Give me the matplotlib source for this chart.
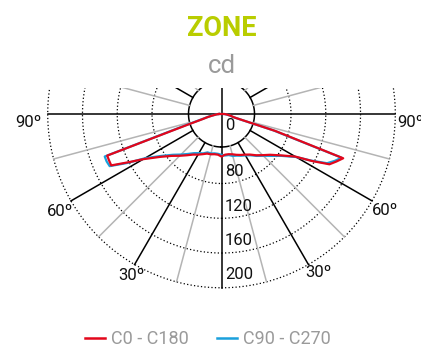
"""
Polar luminous intensity diagram (cd) for the ZONE luminaire.
Lower hemisphere only, C0-C180 and C90-C270 planes.
"""
import matplotlib
matplotlib.use("Agg")
import matplotlib.pyplot as plt
import matplotlib.patches as mpatches
from matplotlib.lines import Line2D
import numpy as np

# gamma angles (deg from nadir), same grid for every half-plane
ANGLES = [0, 5, 10, 15, 20, 25, 30, 35, 40, 45, 50, 55, 60, 62.5, 65, 67.5,
          70, 72.5, 75, 77.5, 80, 85, 90]

# intensities in cd
C0 = [49, 47, 47, 48, 50, 52, 54, 57, 62, 67, 73, 83, 98, 117, 137, 143,
      149, 65, 15, 12, 10, 6, 3]
C180 = [49, 47, 47, 48, 48.5, 51, 54, 57, 62, 68, 75, 86, 104, 120, 140, 140,
        140, 40, 22, 16, 11, 6, 3]
C90 = [47, 48, 48, 50, 51, 53, 55, 58, 63, 68, 75, 84, 99, 116, 134, 141,
       147, 62, 14, 11, 9, 5, 3]
C270 = [47, 46, 46, 47, 47, 50, 52, 55, 60, 66, 73, 84, 102, 122, 142, 143,
        143, 44, 24, 17, 12, 6, 3]

RINGS = [80, 120, 160, 200]
RING_LABELS = ["0", "80", "120", "160", "200"]
DEG_LABELS = ["90º", "60º", "30º", "30º", "60º", "90º"]
SERIES_NAMES = ["C0 - C180", "C90 - C270"]

RED = "#e3061b"
BLUE = "#1aa0dc"
GREY_TXT = "#9a9a9a"
FONT = ["Roboto", "DejaVu Sans"]

R_MAX = 200
R_INNER = 38


def full_curve(right, left):
    """Join the two half-planes into one closed polar trace (-90 .. 90 deg)."""
    ang = np.radians(ANGLES)
    theta = np.concatenate([-ang[::-1], ang[1:]])
    r = np.concatenate([np.asarray(left)[::-1], np.asarray(right)[1:]])
    return np.append(theta, theta[0]), np.append(r, r[0])


def draw_grid(ax):
    t = np.linspace(0, 2 * np.pi, 720)
    for r in RINGS:
        ax.plot(t, np.full_like(t, r), color="black", lw=0.9,
                ls=(0, (1, 1.8)), zorder=1, clip_on=False)
    ax.plot(t, np.full_like(t, R_INNER), color="black", lw=1.1,
            zorder=1, clip_on=False)

    for a in range(0, 360, 15):
        rad = np.radians(a)
        if a % 90 == 0:
            ax.plot([rad, rad], [0, R_MAX], color="black", lw=1.1,
                    zorder=1, clip_on=False)
        elif a % 30 == 0:
            ax.plot([rad, rad], [R_INNER, R_MAX], color="black", lw=1.1,
                    zorder=1, clip_on=False)
        else:
            ax.plot([rad, rad], [R_INNER, R_MAX], color="#b4b4b4", lw=1.1,
                    zorder=1, clip_on=False)


def main():
    fig = plt.figure(figsize=(4.21, 3.48), dpi=100)
    ax = fig.add_axes([0.1133, 0.173, 0.8257, 0.9989], projection="polar")
    ax.set_theta_zero_location("S")
    ax.set_ylim(0, R_MAX)
    ax.grid(False)
    ax.set_xticks([])
    ax.set_yticks([])
    ax.spines["polar"].set_visible(False)
    ax.patch.set_visible(False)

    draw_grid(ax)

    th, r = full_curve(C90, C270)
    ax.plot(th, r, color=BLUE, lw=1.6, zorder=3, clip_on=False)
    th, r = full_curve(C0, C180)
    ax.plot(th, r, color=RED, lw=1.6, zorder=4, clip_on=False)

    # radial scale labels just right of the nadir line
    label_r = [12.7, 66.7, 106, 146, 185]
    for txt, rr in zip(RING_LABELS, label_r):
        ax.annotate(txt, xy=(0, rr), xytext=(2.5, 0), textcoords="offset points",
                    ha="left", va="center", fontsize=12, family=FONT,
                    color="#111111", zorder=5)

    # angle labels around the outer ring
    deg_pos = [(-87.4, 222), (-59.0, 217), (-29.1, 213),
               (31.5, 214), (59.4, 218), (87.4, 218)]
    for txt, (a, rr) in zip(DEG_LABELS, deg_pos):
        ax.text(np.radians(a), rr, txt, ha="center", va="center",
                fontsize=12, family=FONT, color="#111111")

    # chart is cut just above the horizon line
    cut = 1 - 88 / 348
    fig.add_artist(mpatches.Rectangle((0, cut), 1, 1 - cut,
                                      transform=fig.transFigure,
                                      facecolor="white", edgecolor="none",
                                      zorder=3))

    fig.text(0.527, 1 - 28 / 348, "ZONE", ha="center", va="center",
             fontsize=19.5, fontweight="bold", family=FONT, color="#b9cd00",
             zorder=5)
    fig.text(0.527, 1 - 66 / 348, "cd", ha="center", va="center",
             fontsize=18.5, family=FONT, color=GREY_TXT, zorder=5)

    handles = [Line2D([], [], color=RED, lw=1.8),
               Line2D([], [], color=BLUE, lw=1.8)]
    leg = fig.legend(handles, SERIES_NAMES, loc="center",
                     bbox_to_anchor=(207.8 / 421, 1 - 339 / 348), ncol=2,
                     frameon=False, prop={"family": FONT, "size": 13},
                     handlelength=1.1, handletextpad=0.3, columnspacing=1.6,
                     borderpad=0)
    for t in leg.get_texts():
        t.set_color(GREY_TXT)
    leg.set_zorder(5)

    fig.savefig("out.png", dpi=100)
    plt.close(fig)


if __name__ == "__main__":
    main()
